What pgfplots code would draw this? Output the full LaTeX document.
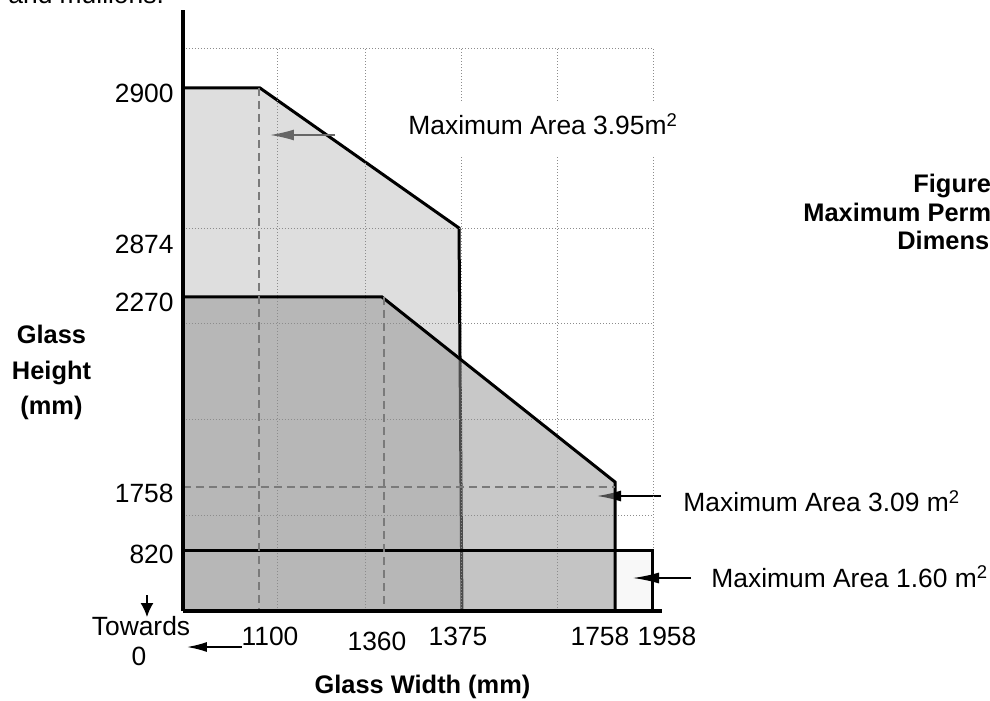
\documentclass[border=0pt]{standalone}
\usepackage{fontspec}
\setmainfont{Liberation Sans}
\usepackage{pgfplots}
\pgfplotsset{compat=1.18}
\usetikzlibrary{arrows.meta}

\definecolor{bigfill}{HTML}{DEDEDE}
\definecolor{midfill}{HTML}{949494}
\definecolor{smallfill}{HTML}{F8F8F8}
\definecolor{gridc}{HTML}{8C8C8C}
\definecolor{dashc}{HTML}{7A7A7A}
\definecolor{arrowc}{HTML}{666666}
\newcommand\lbl{\fontsize{13.2pt}{15pt}\selectfont}
\newcommand\blbl{\fontsize{12.7pt}{15pt}\selectfont\bfseries}

\begin{document}
\begin{tikzpicture}
\useasboundingbox (-91.5pt,-45pt) rectangle (403.5pt,305.5pt);
\clip (-91.5pt,-45pt) rectangle (403.5pt,305.5pt);
\begin{axis}[
    at={(0pt,0pt)}, anchor=south west,
    x=0.5pt, y=0.5pt,
    xmin=0, xmax=479, ymin=0, ymax=601,
    axis x line=bottom, axis y line=left,
    axis line style={-, line width=2.3pt, black},
    axis on top,
    clip=false,
    major tick length=0pt,
    /pgf/number format/assume math mode=true,
    xtick={87,275,417,479},
    xticklabels={1100,1375,1758,\hspace*{5pt}1958},
    extra x ticks={194},
    extra x tick labels={1360},
    extra x tick style={xticklabel style={yshift=-2.5pt}},
    xticklabel style={anchor=center, yshift=-12.5pt, font=\lbl},
    ytick={57,118,309,367,518},
    yticklabels={820,1758,2270,2874,2900},
    yticklabel style={anchor=east, inner sep=0pt, xshift=-4.5pt, font=\lbl},
]

% areas (chart is not to scale: positions follow the drawing)
\addplot[draw=none, fill=smallfill] coordinates {(0,0) (0,61) (469,61) (469,0)} -- cycle;
\addplot[draw=none, fill=bigfill] coordinates {(0,0) (0,523) (77,523) (276,383) (279,0)} -- cycle;
\addplot[black, line width=1.5pt] coordinates {(0,523) (77,523) (276,383) (279,0)};

\draw[black, line width=0.75pt, -{Latex[length=12pt,width=5.5pt]}] (axis cs:478,115) -- (axis cs:414,115);

\addplot[draw=none, fill=midfill, fill opacity=0.515] coordinates {(0,0) (0,314) (199,314) (432,129) (432,0)} -- cycle;

% grid
\pgfplotsinvokeforeach{95,182,278,374,470}{
  \draw[gridc, densely dotted, line width=0.5pt] (axis cs:#1,0) -- (axis cs:#1,562);
}
\pgfplotsinvokeforeach{562,382,287,191,96}{
  \draw[gridc, densely dotted, line width=0.5pt] (axis cs:0,#1) -- (axis cs:470,#1);
}

\addplot[black, line width=1.5pt] coordinates {(0,314) (199,314) (432,129) (432,0)};
\addplot[black, line width=1.5pt] coordinates {(0,61) (469,61) (469,0)};

% dimension guides
\addplot[dashc, line width=0.75pt, dash pattern=on 4pt off 2.5pt] coordinates {(76,523) (76,0)};
\addplot[dashc, line width=0.75pt, dash pattern=on 4pt off 2.5pt] coordinates {(201,314) (201,0)};
\addplot[dashc, line width=0.75pt, dash pattern=on 4pt off 2.5pt] coordinates {(0,124) (432,124)};

% annotations
\node[anchor=base west, font=\lbl, fill=white, inner xsep=3pt, inner ysep=6pt] at (axis cs:219,476) {Maximum Area 3.95m\textsuperscript{2}\strut};
\draw[arrowc, line width=0.75pt, -{Latex[length=12pt,width=5.5pt]}] (axis cs:152,476) -- (axis cs:87,476);
\node[anchor=base west, font=\lbl, inner sep=0pt] at (axis cs:500,99) {Maximum Area 3.09 m\textsuperscript{2}};
\node[anchor=base west, font=\lbl, inner sep=0pt] at (axis cs:528,24) {Maximum Area 1.60 m\textsuperscript{2}};
\draw[black, line width=0.75pt, -{Latex[length=13pt,width=5.5pt]}] (axis cs:508,33) -- (axis cs:450,33);

\node[anchor=base, font=\lbl] at (axis cs:-42,-24) {Towards};
\node[anchor=base, font=\lbl] at (axis cs:-44,-54) {0};
\draw[black, line width=0.75pt, -{Latex[length=7pt,width=6.5pt]}] (axis cs:-36,16) -- (axis cs:-36,-6);
\draw[black, line width=0.75pt, -{Latex[length=10pt,width=5pt]}] (axis cs:59,-36) -- (axis cs:4,-36);

\node[anchor=base, font=\blbl] at (axis cs:239.5,-82) {Glass Width (mm)};
\node[anchor=base, font=\blbl] at (axis cs:-131.5,267) {Glass};
\node[anchor=base, font=\blbl] at (axis cs:-131.5,231) {Height};
\node[anchor=base, font=\blbl] at (axis cs:-131.5,196) {(mm)};

\node[anchor=base west, font=\blbl, inner sep=0pt] at (axis cs:730,418) {Figure};
\node[anchor=base west, font=\blbl, inner sep=0pt] at (axis cs:620,389) {Maximum Permissible};
\node[anchor=base west, font=\blbl, inner sep=0pt] at (axis cs:714,361) {Dimensions};
\node[anchor=base west, font=\lbl, inner sep=0pt] at (axis cs:-175,607) {and mullions.};

\end{axis}
\end{tikzpicture}
\end{document}
